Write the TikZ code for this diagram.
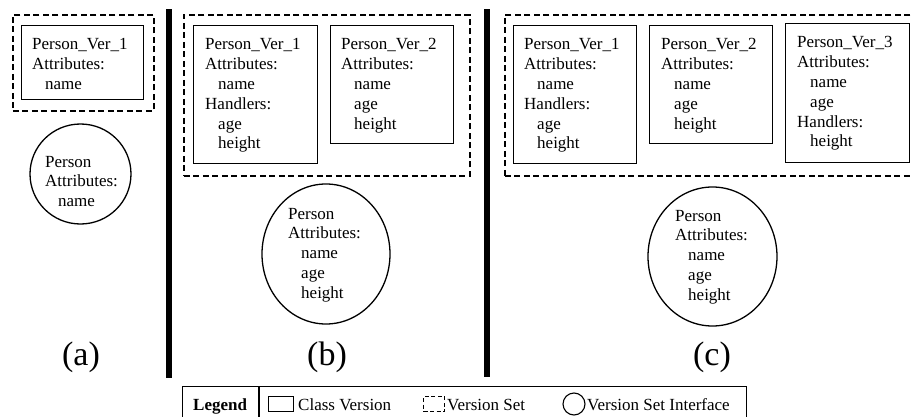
\documentclass[tikz,border=0pt]{standalone}
\usepackage{fontspec}
\setmainfont{Liberation Serif}
\usetikzlibrary{shapes.geometric}
\newcommand{\vsind}{\hspace*{13pt}}
\newcommand{\lines}[1]{\begin{tabular}[t]{@{}l@{}}#1\end{tabular}}
\begin{document}
\begin{tikzpicture}[x=1pt,y=-1pt,
  clsver/.style={draw, line width=1.4pt, inner sep=0pt, anchor=north west},
  verset/.style={draw, line width=1.8pt, dash pattern=on 6pt off 3.5pt, inner sep=0pt, anchor=north west},
  vsiface/.style={draw, ellipse, line width=1.3pt, inner sep=0pt},
  body/.style={anchor=base west, inner sep=0pt, font=\fontsize{17}{19.8}\selectfont},
  caption/.style={anchor=base, inner sep=0pt, font=\fontsize{34}{40}\selectfont},
  legtext/.style={anchor=base west, inner sep=0pt, font=\fontsize{17}{20}\selectfont},
  divider/.style={fill=black}]
\useasboundingbox (0,0) rectangle (912,417);

% ---------- (a) ----------
\node[verset, minimum width=141pt, minimum height=96pt] (vsa) at (12,14) {};
\node[clsver, minimum width=122pt, minimum height=74pt] (va) at (21,25) {};
\node[body] (tva) at (32,50) {\lines{Person\_Ver\_1\\Attributes:\\\vsind name}};
\node[vsiface, minimum width=101pt, minimum height=100pt] (ifa) at (80.5,174) {};
\node[body] (tifa) at (45,167) {\lines{Person\\Attributes:\\\vsind name}};
\node[caption] (capa) at (81,365) {(a)};

\fill[divider] (166,9) rectangle (172,378);

% ---------- (b) ----------
\node[verset, minimum width=286pt, minimum height=161pt] (vsb) at (183,14) {};
\node[clsver, minimum width=124pt, minimum height=138pt] (vb1) at (193,25) {};
\node[body] (tvb1) at (205,50) {\lines{Person\_Ver\_1\\Attributes:\\\vsind name\\Handlers:\\\vsind age\\\vsind height}};
\node[clsver, minimum width=123pt, minimum height=118pt] (vb2) at (330,25) {};
\node[body] (tvb2) at (341,50) {\lines{Person\_Ver\_2\\Attributes:\\\vsind name\\\vsind age\\\vsind height}};
\node[vsiface, minimum width=128pt, minimum height=140pt] (ifb) at (326,254) {};
\node[body] (tifb) at (288,219) {\lines{Person\\Attributes:\\\vsind name\\\vsind age\\\vsind height}};
\node[caption] (capb) at (327,365) {(b)};

\fill[divider] (484,9) rectangle (490,377);

% ---------- (c) ----------
\node[verset, minimum width=412pt, minimum height=161pt] (vsc) at (504,14) {};
\node[clsver, minimum width=123pt, minimum height=138pt] (vc1) at (513,25) {};
\node[body] (tvc1) at (524,50) {\lines{Person\_Ver\_1\\Attributes:\\\vsind name\\Handlers:\\\vsind age\\\vsind height}};
\node[clsver, minimum width=123pt, minimum height=118pt] (vc2) at (649,25) {};
\node[body] (tvc2) at (661,50) {\lines{Person\_Ver\_2\\Attributes:\\\vsind name\\\vsind age\\\vsind height}};
\node[clsver, minimum width=124pt, minimum height=139pt] (vc3) at (785,23) {};
\node[body] (tvc3) at (797,48) {\lines{Person\_Ver\_3\\Attributes:\\\vsind name\\\vsind age\\Handlers:\\\vsind height}};
\node[vsiface, minimum width=129pt, minimum height=139pt] (ifc) at (712.5,256.5) {};
\node[body] (tifc) at (675,221) {\lines{Person\\Attributes:\\\vsind name\\\vsind age\\\vsind height}};
\node[caption] (capc) at (712,365) {(c)};

% ---------- legend ----------
\node[draw, line width=1.4pt, inner sep=0pt, anchor=north west, minimum width=564pt, minimum height=40pt] (legend) at (182,386) {};
\draw[line width=1.4pt] (259,386) -- (259,426);
\node[legtext, font=\fontsize{17}{20}\selectfont\bfseries] (legtitle) at (193,410) {Legend};
\node[clsver, line width=1.1pt, minimum width=25pt, minimum height=15pt] (lgcls) at (268,396) {};
\node[legtext] (lgclst) at (298,410) {Class Version};
\node[verset, line width=1.3pt, dash pattern=on 4pt off 2.5pt, minimum width=21pt, minimum height=15pt] (lgvs) at (423,396) {};
\node[legtext] (lgvst) at (447,410) {Version Set};
\node[vsiface, line width=1.1pt, minimum width=22pt, minimum height=22pt] (lgif) at (574,404) {};
\node[legtext] (lgift) at (587,410) {Version Set Interface};
\end{tikzpicture}
\end{document}
